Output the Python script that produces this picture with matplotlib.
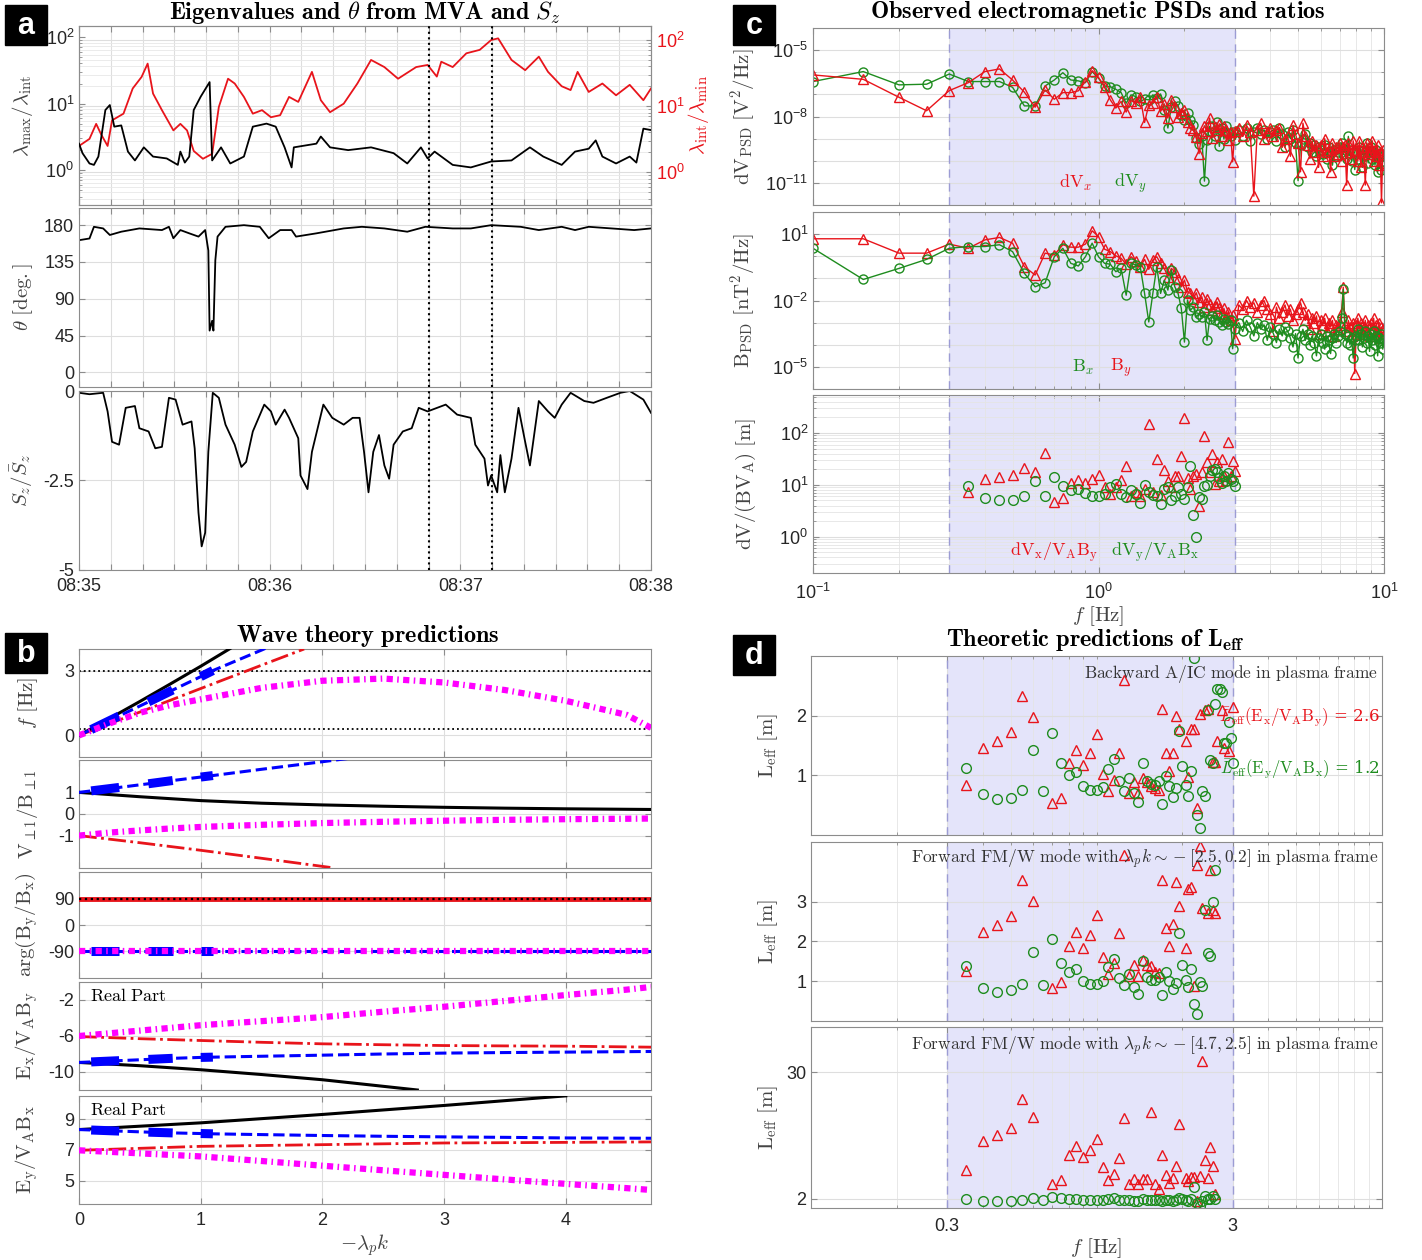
import numpy as np
import matplotlib
matplotlib.use('Agg')
import matplotlib.pyplot as plt
from matplotlib.ticker import FixedLocator, LogLocator, NullFormatter, FixedFormatter
from matplotlib.patches import Rectangle

plt.rcParams['font.family'] = ['Liberation Sans', 'DejaVu Sans']
plt.rcParams['mathtext.fontset'] = 'cm'
plt.rcParams['axes.unicode_minus'] = False

W, H = 1422, 1260
RED = '#e8141b'
GREEN = '#1e8c1e'
GRAY = '#444444'
SHADE = '#e4e4fa'

# ---------------- panel a data (time in s after 08:35:00) ----------------
t_lmax = [0, 1.1, 3.3, 4.7, 6.1, 8.3, 9.7, 11.1, 13.3, 15.4, 17.6, 20.4, 23.3, 27.6, 31.1, 31.9,
          33.3, 34.7, 36.1, 38.3, 41.1, 41.9, 44.7, 47.6, 51.9, 54.7, 59, 61.9, 64.7, 66.9, 67.6,
          74.7, 76.1, 79, 84.7, 91.9, 99, 103.3, 107.6, 109.7, 111.9, 117.6, 123.3, 129.7, 136.1,
          141.9, 146.1, 151.9, 156.1, 160.4, 162.6, 164.7, 169, 173.3, 175.4, 177.6, 180]
lmax_lint = [2.5, 1.8, 1.26, 1.2, 1.6, 8, 9.5, 4.5, 4.7, 1.9, 1.4, 2.2, 1.6, 1.5, 1.2, 1.9,
             1.3, 1.6, 8, 12.7, 21, 1.4, 2.2, 1.26, 1.6, 4.5, 5, 4.5, 2.2, 1.1, 2.2,
             2.5, 3.2, 2.2, 2.0, 2.2, 1.8, 1.26, 2.2, 1.5, 1.9, 1.2, 1.1, 1.35, 1.4,
             2.2, 1.6, 1.2, 1.9, 2.1, 2.8, 1.6, 1.26, 1.6, 1.3, 4.2, 4.0]
t_lint = [0, 3.3, 5.4, 6.9, 9, 10.4, 14, 16.9, 19.7, 21.6, 23.3, 26.1, 29.7, 31.9, 34, 36.1, 39,
          41.9, 44, 46.9, 49, 51.9, 54.7, 57.6, 60.4, 63.3, 66.1, 69, 73.3, 76.1, 79, 83.3, 87.6,
          91.9, 96.1, 100.4, 106.1, 109.7, 112.6, 114, 117.6, 121.9, 126.1, 129.7, 131.9, 136.1,
          140.4, 144.7, 147.6, 151.9, 154.7, 156.9, 160.4, 164.7, 169, 173.3, 177.6, 180]
lint_lmin = [2.5, 3.2, 5.4, 3.8, 2.5, 6.1, 7.7, 18.5, 27.7, 44, 15.5, 8.7, 4.3, 5.4, 4.3, 2.1, 1.6,
             1.9, 9.7, 26, 22, 13.8, 7.7, 8.7, 6.8, 7.3, 13.8, 11.6, 33, 12.3, 8.1, 10.9, 22,
             50, 39, 26, 39, 42, 28, 47, 39, 63, 71, 100, 106, 50,
             35, 56, 33, 20, 17.5, 33, 16.4, 22, 14.6, 21, 12.3, 18.5]
t_theta = [0, 3.3, 4.7, 7.6, 9.7, 13.3, 19, 26.1, 28.3, 29.7, 31.9, 34.7, 37.6, 39.7, 40.7, 41.1,
           41.9, 42.3, 42.9, 43.6, 46.1, 51.9, 56.9, 59.7, 63.3, 66.9, 68.3, 74.7, 83.3, 89, 96.1,
           103.3, 109, 117.6, 123.3, 129.7, 139, 144.7, 151.9, 156.1, 160.4, 167.6, 174.7, 180]
theta = [161.6, 163.7, 178, 176, 168, 172, 176, 174, 178, 164, 174, 170, 166, 174, 149, 51,
         63, 51, 137, 166, 178, 180, 178, 164, 174, 174, 166, 170, 176, 178, 176,
         172, 178, 176, 176, 180, 178, 174, 178, 174, 178, 176, 174, 176]
t_sz = [0, 3.3, 7.6, 9, 10.4, 12.6, 14.7, 17.6, 19, 21.9, 24, 26.1, 28.3, 30.4, 32.6, 35.4, 36.4,
        37.6, 38.6, 39.7, 40.7, 42.1, 44, 46.1, 49, 51.1, 52.6, 54.7, 58.3, 60.4, 61.9, 64.7,
        66.1, 69, 69.7, 71.9, 73.3, 76.9, 79.7, 83.3, 86.1, 88.3, 89.7, 91.1, 92.6, 94.4, 96.1,
        97.6, 99, 101.9, 104.7, 106.9, 109.7, 115.4, 119, 123.3, 124.7, 127.6, 128.7, 129.7,
        131.6, 132.6, 134, 136.1, 138.3, 140.4, 141.9, 144.7, 147.6, 149.7, 151.9, 154.7, 159,
        161.9, 166.1, 170.4, 173.3, 177.6, 180]
sz = [-0.05, -0.09, -0.05, -0.57, -1.42, -1.5, -0.47, -0.42, -1.04, -1.13, -1.6, -1.56, -0.19,
      -0.24, -0.94, -0.85, -1.6, -3.4, -4.34, -3.96, -1.7, -0.05, -0.19, -0.94, -1.5, -2.12,
      -1.98, -1.13, -0.38, -0.57, -0.94, -0.52, -0.75, -1.32, -2.36, -2.74, -1.7, -0.38, -0.75,
      -0.94, -0.75, -0.75, -1.7, -2.83, -1.7, -1.23, -2.08, -2.45, -1.5, -1.13, -1.04, -0.47,
      -0.57, -0.38, -0.66, -0.75, -1.5, -1.89, -2.64, -2.36, -2.83, -1.79, -2.83, -1.89, -0.47,
      -1.42, -2.08, -0.28, -0.57, -0.75, -0.38, -0.05, -0.28, -0.33, -0.19, -0.05, 0.0, -0.24,
      -0.61]
t_marks = [110, 130]
time_labels = ['08:35', '08:36', '08:37', '08:38']

# ---------------- panel b data (theory curves vs -lambda_p k) ----------------
hl_ranges = [(0.1, 0.33), (0.57, 0.77), (1.0, 1.1)]
k_blue = [0, 0.1, 0.33, 0.57, 0.77, 1.0, 1.1, 1.5, 2.0, 2.5, 3.0, 3.5, 4.0, 4.7]
k_mag = [0, 0.25, 0.5, 0.75, 1.0, 1.5, 2.0, 2.5, 3.0, 3.5, 4.0, 4.5, 4.7]
k_line = [0, 0.5, 1.0, 1.5, 2.0, 2.5, 3.0, 3.5, 4.0, 4.7]

f_black_k = [0, 0.25, 0.5, 0.75, 1.0, 1.25]
f_black = [0, 0.78, 1.57, 2.38, 3.2, 4.05]
f_red_k = [0, 0.5, 1.0, 1.5, 1.85]
f_red = [0, 1.08, 2.17, 3.25, 4.0]
f_blue = [0, 0.27, 0.9, 1.55, 2.1, 2.72, 3.0, 3.95, 5.2, 6.4, 7.6, 8.8, 10.0, 11.7]
f_mag = [0, 0.55, 1.05, 1.4, 1.67, 2.2, 2.53, 2.63, 2.45, 2.1, 1.6, 0.95, 0.35]

v_black = [1.0, 0.8, 0.62, 0.5, 0.42, 0.36, 0.31, 0.27, 0.24, 0.21]
v_red_k = [0, 0.5, 1.0, 1.5, 2.1]
v_red = [-1.0, -1.33, -1.68, -2.05, -2.5]
v_blue = [1.0, 1.07, 1.23, 1.40, 1.55, 1.71, 1.78, 2.07, 2.42, 2.78, 3.1, 3.5, 3.8, 4.3]
v_mag = [-1.0, -0.86, -0.76, -0.67, -0.6, -0.5, -0.42, -0.36, -0.31, -0.27, -0.24, -0.22, -0.21]

arg_k = [0, 4.7]
arg_pos = [90, 90]
arg_blue = [-90] * len(k_blue)
arg_mag = [-90] * len(k_mag)

ex_black_k = [0, 0.5, 1.0, 1.5, 2.0, 2.78]
ex_black = [-8.94, -9.3, -9.75, -10.28, -10.86, -12.0]
ex_red = [-6.06, -6.3, -6.5, -6.7, -6.87, -6.97, -7.06, -7.1, -7.13, -7.24]
ex_blue = [-8.94, -8.88, -8.74, -8.6, -8.48, -8.38, -8.35, -8.25, -8.13, -8.0, -7.9, -7.84, -7.79, -7.72]
ex_mag = [-6.0, -5.7, -5.4, -5.1, -4.8, -4.35, -3.9, -3.3, -2.75, -2.1, -1.45, -0.85, -0.55]

ey_black_k = [0, 1, 2, 3, 4]
ey_black = [8.34, 8.78, 9.33, 9.92, 10.55]
ey_red_k = [0, 1, 2, 3, 4, 4.7]
ey_red = [6.98, 7.24, 7.35, 7.46, 7.5, 7.53]
ey_blue = [8.34, 8.31, 8.24, 8.17, 8.12, 8.08, 8.06, 8.01, 7.95, 7.9, 7.86, 7.83, 7.79, 7.77]
ey_mag = [6.98, 6.88, 6.78, 6.68, 6.58, 6.28, 5.97, 5.67, 5.37, 5.07, 4.78, 4.5, 4.38]

# ---------------- panel c data (PSD exponents, log10) ----------------
f_lo = [0.10, 0.15, 0.20, 0.25, 0.30, 0.35, 0.40, 0.45, 0.50, 0.55, 0.60, 0.65, 0.70, 0.75,
        0.80, 0.85, 0.90, 0.95, 1.00, 1.05, 1.10, 1.15, 1.20, 1.25, 1.30, 1.35, 1.40, 1.45,
        1.50, 1.55, 1.60, 1.65, 1.70, 1.75, 1.80, 1.85, 1.90, 1.95, 2.00, 2.05, 2.10, 2.15,
        2.20, 2.25, 2.30, 2.35, 2.40, 2.45, 2.50, 2.55, 2.60, 2.65, 2.70, 2.75, 2.80, 2.85,
        2.90, 2.95, 3.00]
f_hi = [3.1, 3.2, 3.3, 3.4, 3.5, 3.6, 3.7, 3.8, 3.9, 4.0, 4.1, 4.2, 4.3, 4.4, 4.5, 4.6, 4.7,
        4.8, 4.9, 5.0, 5.1, 5.2, 5.3, 5.4, 5.5, 5.6, 5.7, 5.8, 5.9, 6.0, 6.1, 6.2, 6.3, 6.4,
        6.5, 6.6, 6.7, 6.8, 6.9, 7.0, 7.1, 7.2, 7.3, 7.4, 7.5, 7.6, 7.7, 7.8, 7.9, 8.0, 8.1,
        8.2, 8.3, 8.4, 8.5, 8.6, 8.7, 8.8, 8.9, 9.0, 9.1, 9.2, 9.3, 9.4, 9.5, 9.6, 9.7, 9.8,
        9.9, 10.0]

dvx_lo = [-6.12, -6.32, -7.13, -7.74, -6.83, -6.47, -5.97, -5.85, -6.35, -6.90,
          -7.58, -6.80, -7.22, -6.92, -6.92, -6.84, -6.42, -5.93, -6.23, -6.68,
          -7.25, -7.62, -7.32, -7.80, -7.28, -7.40, -7.10, -8.27, -7.47, -7.37,
          -7.10, -7.77, -7.43, -8.07, -7.25, -7.55, -8.03, -7.85, -7.70, -8.27,
          -8.52, -8.63, -8.93, -9.68, -8.75, -8.42, -8.67, -8.07, -8.97, -8.48,
          -8.63, -8.33, -8.90, -8.45, -8.63, -9.05, -8.72, -10.05, -8.67]
dvx_hi = [-8.5, -8.9, -8.4, -8.7, -11.6, -8.6, -8.3, -9.0, -8.7,
          -8.5, -8.9, -8.6, -8.5, -9.4, -9.0, -8.9, -9.8, -8.4, -8.8,
          -9.2, -10.5, -8.3, -8.9, -9.3, -9.9, -9.1, -9.6, -9.3, -10.3,
          -9.3, -9.8, -9.0, -9.6, -9.5, -10.5, -9.2, -9.8, -9.4, -9.7,
          -9.2, -10.0, -9.4, -9.3, -11.1, -9.2, -9.6, -9.9, -9.1, -9.5,
          -9.5, -10.0, -9.1, -10.3, -9.4, -9.6, -11.1, -9.2, -9.7, -9.4,
          -9.6, -9.1, -10.0, -9.5, -9.8, -9.3, -10.2, -9.6, -11.9, -9.5,
          -9.7]
dvy_lo = [-6.42, -5.97, -6.57, -6.54, -6.08, -6.42, -6.42, -6.42, -6.68, -7.52,
          -7.52, -6.62, -6.35, -6.02, -6.35, -6.39, -6.47, -5.97, -6.27, -6.62,
          -6.65, -6.77, -6.92, -7.40, -7.02, -7.10, -7.32, -7.22, -7.25, -7.02,
          -7.17, -6.98, -7.70, -8.52, -7.55, -7.32, -7.52, -7.92, -8.18, -7.85,
          -8.15, -8.37, -8.97, -9.23, -8.90, -10.92, -9.05, -8.45, -8.72, -8.90,
          -8.27, -9.35, -8.52, -9.02, -8.42, -8.75, -8.90, -8.72, -9.05]
dvy_hi = [-8.6, -8.9, -8.5, -9.1, -8.7, -8.5, -8.8, -8.6, -9.0,
          -8.7, -8.6, -9.1, -8.5, -8.8, -9.4, -8.7, -9.0, -8.6, -9.2,
          -10.9, -9.3, -9.0, -8.8, -9.4, -9.2, -9.6, -9.3, -9.8, -9.4,
          -9.5, -9.7, -9.3, -9.9, -9.4, -9.6, -10.2, -9.5, -9.8, -9.6,
          -9.4, -9.2, -9.7, -9.5, -9.9, -8.9, -9.5, -10.0, -9.6, -10.4,
          -9.6, -9.9, -9.4, -9.7, -10.3, -9.5, -9.8, -9.2, -10.1, -9.6,
          -9.4, -9.9, -9.6, -10.2, -9.5, -10.5, -9.7, -9.8, -10.4, -10.0,
          -9.8]
by_lo = [0.79, 0.79, 0.14, 0.14, 0.55, 0.36, 0.74, 0.85, 0.59, -0.47,
         -0.85, 0.14, 0.06, 0.52, 0.41, 0.41, 0.55, 1.15, 0.89, 0.32,
         0.21, 0.02, -0.09, -0.36, -0.02, -0.21, -0.47, -0.14, -0.59, -0.17,
         -0.02, -0.32, -0.55, -0.92, -0.55, -0.70, -1.05, -1.38, -1.08, -1.61,
         -1.68, -1.91, -1.65, -2.06, -1.83, -2.29, -1.91, -2.17, -2.44, -2.26,
         -2.06, -2.36, -2.59, -2.36, -2.74, -2.52, -2.89, -2.67, -3.73]
by_hi = [-2.2, -2.4, -2.0, -2.3, -2.1, -2.5, -2.2, -2.0, -2.4,
         -2.6, -3.4, -2.3, -2.8, -2.5, -2.2, -2.7, -2.4, -2.9, -2.6,
         -2.4, -2.1, -2.5, -2.9, -2.6, -3.3, -2.8, -3.0, -2.7, -3.5,
         -2.9, -3.1, -2.8, -3.4, -3.0, -3.2, -2.9, -3.6, -3.1, -3.3,
         -3.0, -2.5, -1.4, -3.1, -3.4, -2.9, -3.2, -3.6, -3.0, -5.3,
         -3.1, -2.8, -3.3, -3.0, -3.5, -3.2, -2.9, -3.4, -3.1, -3.6,
         -3.0, -3.3, -2.8, -3.5, -3.1, -3.4, -3.0, -3.7, -3.2, -3.3,
         -3.5]
bx_lo = [0.36, -1.05, -0.55, -0.14, 0.36, 0.44, 0.44, 0.52, 0.21, -0.77,
         -1.38, -1.20, -0.02, 0.36, -0.32, -0.44, -0.02, 0.59, -0.02, -0.32,
         -0.36, -0.70, -0.55, -1.76, -0.32, -0.39, -0.47, -1.68, -2.97, -1.68,
         -0.47, -1.68, -1.08, -1.53, -0.62, -1.38, -1.68, -2.36, -3.88, -1.98,
         -2.44, -2.29, -2.74, -2.59, -2.74, -2.52, -3.80, -2.82, -2.71, -2.89,
         -2.67, -2.97, -3.12, -2.82, -2.97, -3.05, -2.89, -4.18, -3.27]
bx_hi = [-3.0, -3.4, -2.9, -3.2, -3.6, -3.0, -3.3, -3.1, -3.8,
         -3.2, -3.5, -3.9, -3.3, -3.6, -3.2, -3.4, -3.7, -4.1, -3.5,
         -4.6, -3.6, -3.3, -3.8, -3.5, -4.0, -3.6, -3.9, -4.5, -3.7,
         -3.5, -3.9, -4.2, -3.6, -3.8, -4.4, -3.7, -3.5, -3.9, -3.6,
         -3.4, -2.8, -1.5, -3.5, -3.9, -3.6, -4.0, -3.7, -4.6, -3.8,
         -3.6, -3.3, -3.8, -3.5, -4.1, -3.7, -3.4, -3.9, -3.6, -4.3,
         -3.5, -3.8, -3.4, -4.0, -3.6, -4.5, -3.7, -3.9, -3.5, -4.2,
         -3.8]

# ratios dV/(B VA) for f = 0.35 ... 3.00 Hz
f_ratio = f_lo[5:]
ratio_x = [7.2, 13, 14, 15.8, 21, 18, 42, 4.6, 5.6, 11,
           12.5, 10.8, 13, 15.8, 9.3, 6.7, 9, 12.5, 23, 6,
           7.2, 6, 8.4, 149, 7.2, 31.6, 6.5, 19, 12, 9.3,
           15, 14.5, 36, 194, 13.6, 8.4, 14.5, 16.3, 4.0, 17.5,
           89, 27, 17.5, 39.5, 10.5, 27, 12, 31.6, 15, 12.5,
           66, 15, 28.6, 18.5]
ratio_y = [9.4, 5.6, 5.0, 5.1, 6.2, 12, 6.2, 14, 9.7, 8,
           8.4, 6.9, 6, 6, 6.7, 9, 10.5, 6.7, 5.8, 7.8,
           6.7, 4.4, 10.1, 7.2, 6.5, 6.2, 4.2, 8.4, 9, 5,
           6.2, 9.3, 6.7, 5.4, 9, 23, 2.6, 1.0, 5.8, 5.4,
           9.7, 10, 14.5, 19, 20.5, 17.5, 13.6, 11, 14.5, 12,
           16.8, 13, 11.7, 9.7]

# ---------------- panel d data (L_eff in m) ----------------
nan = float('nan')
leff1_x = [0.83, 1.45, 1.58, 1.73, 2.33, 1.97, 4.8, 0.53, 0.62, 1.20,
           1.43, 1.18, 1.38, 1.70, 1.03, 0.73, 0.93, 1.37, 2.60, 0.70,
           0.88, 0.70, 0.95, 0.88, 0.82, 0.78, 0.75, 2.12, 1.37, 1.07,
           1.38, 1.99, 1.78, 22.0, 1.58, 0.97, 1.77, 1.78, 0.46, 2.02,
           10.2, 2.10, 2.12, 4.5, 1.22, 1.22, 1.57, 3.6, 2.10, 1.45,
           7.5, 1.40, 3.3, 2.15]
leff1_y = [1.12, 0.68, 0.60, 0.62, 0.75, 1.43, 0.74, 1.71, 1.21, 1.00,
           1.06, 0.82, 0.76, 0.75, 0.81, 1.10, 1.27, 0.90, 0.73, 0.95,
           0.70, 0.55, 1.20, 0.90, 0.85, 0.83, 0.90, 0.52, 0.99, 0.82,
           0.64, 0.78, 1.74, 1.16, 0.84, 0.66, 1.07, 2.97, 0.33, 0.12,
           0.73, 0.65, 2.10, 1.25, 1.20, 2.20, 2.45, 2.45, 2.40, 1.55,
           1.55, 1.90, 1.62, 1.20]
leff2_x = [1.25, 2.23, 2.42, 2.65, 3.55, 3.02, 7.3, 0.83, 0.97, 1.88,
           2.23, 1.83, 2.15, 2.66, 1.60, 1.17, 1.47, 2.20, 4.17, 1.12,
           1.42, 1.13, 1.53, 1.42, 1.38, 1.24, 1.20, 3.55, 2.35, 1.88,
           2.43, 3.50, 2.88, 6.0, 1.83, 3.33, 3.37, 0.89, 3.92, 4.40,
           2.83, 4.8, 2.72, 3.8, 2.80, 2.72,
           nan, nan, nan, nan, nan, nan, nan, nan]
leff2_y = [1.38, 0.83, 0.73, 0.77, 0.92, 1.73, 0.90, 2.07, 1.47, 1.22,
           1.30, 1.00, 0.93, 0.92, 1.00, 1.35, 1.57, 1.08, 0.90, 1.18,
           0.86, 0.68, 1.50, 1.10, 1.04, 1.02, 1.10, 0.65, 1.22, 1.00,
           0.80, 0.95, 2.22, 1.42, 1.03, 0.85, 1.30, 0.43, 0.17, 0.97,
           0.88, 2.80, 1.70, 1.63, 3.00, 3.80,
           nan, nan, nan, nan, nan, nan, nan, nan]
leff3_x = [8.3, 14.9, 16.2, 17.7, 24.0, 20.1, 45.0, 5.4, 6.2, 11.8,
           13.8, 11.2, 12.9, 15.3, 9.1, 6.1, 7.6, 11.0, 19.9, 5.2,
           6.3, 5.2, 6.3, 6.5, 21.2, 5.2, 4.3, 11.7, 7.3, 5.5,
           6.7, 9.3, 18.6, 45.0, 6.7, 6.0, 6.8, 6.8, 1.5, 7.1,
           32.5, 10.6, 6.7, 13.5, 9.3, 3.1,
           nan, nan, nan, nan, nan, nan, nan, nan]
leff3_y = [2.0, 1.6, 1.6, 1.6, 1.7, 2.3, 1.8, 2.5, 2.1, 1.9,
           1.9, 1.7, 1.7, 1.7, 1.8, 2.0, 2.1, 1.8, 1.7, 1.8,
           1.6, 1.5, 2.0, 1.8, 1.8, 1.8, 1.8, 1.5, 1.8, 1.7,
           1.6, 1.7, 2.3, 1.9, 1.7, 1.6, 1.9, 4.6, 1.1, 0.5,
           1.6, 2.6, 1.9, 1.9, 2.7, 1.97,
           nan, nan, nan, nan, nan, nan, nan, nan]
leff_mean_x = 2.6
leff_mean_y = 1.2
band = (0.3, 3.0)

fig = plt.figure(figsize=(W / 100, H / 100), dpi=100)


def add_ax(x0, y0, x1, y1):
    return fig.add_axes([x0 / W, 1 - y1 / H, (x1 - x0) / W, (y1 - y0) / H])


def style(ax, size=13):
    for s in ax.spines.values():
        s.set_color('#8c8c8c')
    ax.tick_params(which='both', direction='in', top=True, right=True, colors='#8c8c8c',
                   labelcolor='#262626', labelsize=size, length=4)
    ax.tick_params(which='minor', length=2)
    ax.set_axisbelow(True)
    ax.grid(True, which='major', color='#dedede', lw=0.8)


def ylab(ax, text, xpos, color=GRAY):
    ax.set_ylabel(text, fontsize=15, color=color)
    ax.yaxis.set_label_coords(xpos, 0.5)


def panel_tag(letter, x0, y0):
    fig.patches.append(Rectangle((x0 / W, 1 - (y0 + 40) / H), 42 / W, 40 / H,
                                 transform=fig.transFigure, color='black', zorder=10))
    fig.text((x0 + 21) / W, 1 - (y0 + 21) / H, letter, color='white', fontsize=22,
             fontweight='bold', ha='center', va='center', zorder=11)


TITLE = 17.5

# ================= panel a =================
a1 = add_ax(79, 26, 651, 205)
a2 = add_ax(79, 208, 651, 387)
a3 = add_ax(79, 391, 651, 570)
for ax in (a1, a2, a3):
    style(ax)
    ax.set_xlim(0, 180)
    ax.set_xticks(range(0, 181, 10))
    ax.set_xticklabels([])
    for tm in t_marks:
        ax.axvline(tm, color='black', ls=':', lw=1.5, zorder=5)
a3.set_xticklabels([time_labels[i // 60] if i % 60 == 0 else '' for i in range(0, 181, 10)])
a3.tick_params(axis='x', pad=6)

# left axis (black) sits on top with a transparent background; grid lives on the red twin
a1.set_yscale('log')
a1.set_ylim(0.3, 146)
a1.yaxis.set_major_locator(FixedLocator([1, 10, 100]))
a1.yaxis.set_minor_locator(LogLocator(subs=np.arange(2, 10)))
a1.yaxis.set_minor_formatter(NullFormatter())
a1.grid(False)
a1r = a1.twinx()
a1r.set_yscale('log')
a1r.set_ylim(0.32, 163)
a1r.yaxis.set_major_locator(FixedLocator([1, 10, 100]))
a1r.yaxis.set_minor_locator(LogLocator(subs=np.arange(2, 10)))
a1r.yaxis.set_minor_formatter(NullFormatter())
a1r.tick_params(which='both', direction='in', colors='#8c8c8c', labelcolor=RED, labelsize=13)
a1r.tick_params(which='minor', length=2)
a1r.set_axisbelow(True)
a1r.grid(True, which='major', color='#dedede', lw=0.8)
a1r.grid(True, which='minor', axis='y', color='#e8e8e8', lw=0.6)
for tx in range(0, 181, 10):
    a1r.axvline(tx, color='#dedede', lw=0.8, zorder=0.5)
for s in a1r.spines.values():
    s.set_color('#8c8c8c')
a1r.plot(t_lint, lint_lmin, color=RED, lw=1.3, zorder=3)
a1.plot(t_lmax, lmax_lint, color='black', lw=1.3, zorder=6)
a1.set_zorder(a1r.get_zorder() + 1)
a1.patch.set_visible(False)
ylab(a1, r'$\lambda_{\max}/\lambda_{\rm int}$', -0.077)
a1r.set_ylabel(r'$\lambda_{\rm int}/\lambda_{\min}$', fontsize=15, color=RED)
a1r.yaxis.set_label_coords(1.061, 0.5)

a2.plot(t_theta, theta, color='black', lw=1.3)
a2.set_ylim(-18, 201)
a2.set_yticks([0, 45, 90, 135, 180])
ylab(a2, r'$\theta\ [\rm deg.]$', -0.077)

a3.plot(t_sz, sz, color='black', lw=1.3)
a3.set_ylim(-5, 0)
a3.set_yticks([-5, -2.5, 0])
a3.set_yticklabels(['-5', '-2.5', '0'])
ylab(a3, r'$S_z/\bar{S}_z$', -0.077)

fig.text(365 / W, 1 - 12 / H, r'$\mathbf{Eigenvalues\ and}\ \theta\ \mathbf{from\ MVA\ and}\ S_z$',
         ha='center', va='center', fontsize=TITLE)

# ================= panel b =================
b_rows = [(649, 757), (760, 868), (872, 978), (982, 1090), (1096, 1204)]
b_axes = [add_ax(79, y0, 651, y1) for y0, y1 in b_rows]
for ax in b_axes:
    style(ax)
    ax.set_xlim(0, 4.7)
    ax.set_xticks([0, 1, 2, 3, 4])
    ax.set_xticklabels([])
b_axes[-1].set_xticklabels(['0', '1', '2', '3', '4'])
b_axes[-1].tick_params(axis='x', pad=6)

DOT = (0, (1.0, 0.7, 0.25, 0.7))


def theory(ax, kb, yb, km, ym, kk, yk, kr, yr, dotted_black=False):
    if dotted_black:
        ax.plot(kr, yr, color=RED, lw=3.5, zorder=3)
        ax.plot(kk, yk, color='black', ls=':', lw=1.6, zorder=4)
    else:
        ax.plot(kr, yr, color=RED, ls='-.', lw=2, zorder=3)
        ax.plot(kk, yk, color='black', lw=2.2, zorder=3)
    kb = np.array(kb)
    yb = np.array(yb)
    ax.plot(kb, yb, color='blue', ls='--', lw=2.2, zorder=3)
    for lo, hi in hl_ranges:
        m = (kb >= lo - 1e-9) & (kb <= hi + 1e-9)
        ax.plot(kb[m], yb[m], color='blue', lw=6.5, solid_capstyle='butt', zorder=3)
    ax.plot(km, ym, color='magenta', ls=DOT, lw=4.5, dash_capstyle='butt', zorder=4)


b1, b2, b3, b4, b5 = b_axes
theory(b1, k_blue, f_blue, k_mag, f_mag, f_black_k, f_black, f_red_k, f_red)
b1.axhline(3, color='black', ls=':', lw=1.3, zorder=2)
b1.axhline(0.3, color='black', ls=':', lw=1.3, zorder=2)
b1.set_ylim(-1, 4)
b1.set_yticks([0, 3])
ylab(b1, r'$f\ [\rm Hz]$', -0.068)

theory(b2, k_blue, v_blue, k_mag, v_mag, k_line, v_black, v_red_k, v_red)
b2.set_ylim(-2.5, 2.5)
b2.set_yticks([-1, 0, 1])
ylab(b2, r'$\rm V_{\perp1}/B_{\perp1}$', -0.068)

theory(b3, k_blue, arg_blue, k_mag, arg_mag, arg_k, arg_pos, arg_k, arg_pos, dotted_black=True)
b3.set_ylim(-183, 183)
b3.set_yticks([-90, 0, 90])
ylab(b3, r'$\rm arg(B_y/B_x)$', -0.068)

theory(b4, k_blue, ex_blue, k_mag, ex_mag, ex_black_k, ex_black, k_line, ex_red)
b4.set_ylim(-12, 0)
b4.set_yticks([-10, -6, -2])
ylab(b4, r'$\rm E_x/V_AB_y$', -0.068)
b4.text(0.02, 0.87, r'$\rm Real\ Part$', transform=b4.transAxes, fontsize=13, va='center')

theory(b5, k_blue, ey_blue, k_mag, ey_mag, ey_black_k, ey_black, ey_red_k, ey_red)
b5.set_ylim(3.46, 10.54)
b5.set_yticks([5, 7, 9])
ylab(b5, r'$\rm E_y/V_AB_x$', -0.068)
b5.text(0.02, 0.87, r'$\rm Real\ Part$', transform=b5.transAxes, fontsize=13, va='center')
b5.set_xlabel(r'$-\lambda_p k$', fontsize=15, color=GRAY, labelpad=2)

fig.text(368 / W, 1 - 636 / H, r'$\mathbf{Wave\ theory\ predictions}$', ha='center',
         va='center', fontsize=TITLE)

# ================= panel c =================
c1 = add_ax(813, 28, 1384, 205)
c2 = add_ax(813, 212, 1384, 389)
c3 = add_ax(813, 395, 1384, 573)


def log_x(ax):
    ax.set_xscale('log')
    ax.set_xlim(0.1, 10)
    ax.xaxis.set_minor_locator(LogLocator(subs=np.arange(2, 10)))
    ax.xaxis.set_minor_formatter(NullFormatter())
    ax.grid(True, which='minor', axis='x', color='#e4e4e4', lw=0.6)


def shade(ax):
    ax.axvspan(band[0], band[1], color=SHADE, zorder=0.2, lw=0)
    for b in band:
        ax.axvline(b, color='#9c9cd4', ls=(0, (6, 4)), lw=1, zorder=0.6)


f_all = f_lo + f_hi
for ax in (c1, c2, c3):
    style(ax)
    log_x(ax)
    shade(ax)
    ax.set_yscale('log')
for ax in (c1, c2):
    ax.set_xticklabels([])
    ax.xaxis.set_major_formatter(NullFormatter())

mk = dict(mfc='none', ms=6.5, mew=1.0, lw=1.0)
c1.plot(f_all, 10.0 ** np.array(dvy_lo + dvy_hi), color=GREEN, marker='o', **mk)
c1.plot(f_all, 10.0 ** np.array(dvx_lo + dvx_hi), color=RED, marker='^', **mk)
c1.set_ylim(1e-12, 1e-4)
c1.yaxis.set_major_locator(FixedLocator([1e-11, 1e-8, 1e-5]))
c1.yaxis.set_minor_locator(FixedLocator([10.0 ** e for e in range(-12, -3)]))
c1.yaxis.set_minor_formatter(NullFormatter())
c1.grid(True, which='minor', axis='y', color='#dedede', lw=0.8)
ylab(c1, r'$\rm dV_{PSD}\ [V^2/Hz]$', -0.096)
c1.text(0.46, 0.125, r'$\mathrm{dV}_x$', color=RED, transform=c1.transAxes, fontsize=13,
        ha='center', va='center')
c1.text(0.555, 0.125, r'$\mathrm{dV}_y$', color=GREEN, transform=c1.transAxes, fontsize=13,
        ha='center', va='center')

c2.plot(f_all, 10.0 ** np.array(by_lo + by_hi), color=RED, marker='^', **mk)
c2.plot(f_all, 10.0 ** np.array(bx_lo + bx_hi), color=GREEN, marker='o', **mk)
c2.set_ylim(1e-6, 1e2)
c2.yaxis.set_major_locator(FixedLocator([1e-5, 1e-2, 1e1]))
c2.yaxis.set_minor_locator(FixedLocator([10.0 ** e for e in range(-6, 3)]))
c2.yaxis.set_minor_formatter(NullFormatter())
c2.grid(True, which='minor', axis='y', color='#dedede', lw=0.8)
ylab(c2, r'$\rm B_{PSD}\ [nT^2/Hz]$', -0.096)
c2.text(0.473, 0.12, r'$\mathrm{B}_x$', color=GREEN, transform=c2.transAxes, fontsize=13,
        ha='center', va='center')
c2.text(0.54, 0.12, r'$\mathrm{B}_y$', color=RED, transform=c2.transAxes, fontsize=13,
        ha='center', va='center')

c3.plot(f_ratio, ratio_x, ls='none', color=RED, marker='^', mfc='none', ms=7, mew=1.0)
c3.plot(f_ratio, ratio_y, ls='none', color=GREEN, marker='o', mfc='none', ms=7, mew=1.0)
c3.set_ylim(0.2, 540)
c3.yaxis.set_major_locator(FixedLocator([1, 10, 100]))
c3.yaxis.set_minor_locator(LogLocator(subs=np.arange(2, 10)))
c3.yaxis.set_minor_formatter(NullFormatter())
c3.grid(True, which='minor', axis='y', color='#e4e4e4', lw=0.6)
ylab(c3, r'$\rm dV/(BV_A)\ [m]$', -0.096)
c3.text(0.422, 0.115, r'$\rm dV_x/V_AB_y$', color=RED, transform=c3.transAxes, fontsize=13,
        ha='center', va='center')
c3.text(0.6, 0.115, r'$\rm dV_y/V_AB_x$', color=GREEN, transform=c3.transAxes, fontsize=13,
        ha='center', va='center')
c3.set_xlabel(r'$f\ [\rm Hz]$', fontsize=15, color=GRAY, labelpad=1)
c3.tick_params(axis='x', pad=7)

fig.text(1098 / W, 1 - 12 / H, r'$\mathbf{Observed\ electromagnetic\ PSDs\ and\ ratios}$',
         ha='center', va='center', fontsize=TITLE)

# ================= panel d =================
d_rows = [(656, 835), (842, 1021), (1027, 1208)]
d_axes = [add_ax(811, y0, 1382, y1) for y0, y1 in d_rows]
for ax in d_axes:
    style(ax)
    log_x(ax)
    shade(ax)
    ax.xaxis.set_major_locator(FixedLocator([0.3, 3]))
    ax.xaxis.set_minor_locator(LogLocator(subs=np.arange(1, 10)))
    ax.xaxis.set_major_formatter(NullFormatter())
d1, d2, d3 = d_axes
d3.xaxis.set_major_formatter(FixedFormatter(['0.3', '3']))
d3.tick_params(axis='x', pad=7)

sc = dict(ls='none', mfc='none', ms=7, mew=1.0)
for ax, lx, ly in ((d1, leff1_x, leff1_y), (d2, leff2_x, leff2_y), (d3, leff3_x, leff3_y)):
    ax.plot(f_ratio, lx, color=RED, marker='^', **sc)
    ax.plot(f_ratio, ly, color=GREEN, marker='o', **sc)
    ylab(ax, r'$\rm L_{eff}\ [m]$', -0.055)

d1.set_ylim(0, 3)
d1.set_yticks([1, 2])
d2.set_ylim(0, 4.5)
d2.set_yticks([1, 2, 3])
d3.set_ylim(0, 40)
d3.set_yticks([2, 30])
d1.text(0.993, 0.9, r'$\rm Backward\ A/IC\ mode\ in\ plasma\ frame$', transform=d1.transAxes,
        fontsize=12.5, ha='right', va='center', color='#333333')
d1.text(0.996, 0.66, r'$\bar{L}_{\rm eff}(\mathrm{E_x/V_AB_y})$' + ' = {:.1f}'.format(leff_mean_x),
        transform=d1.transAxes, fontsize=12, ha='right', va='center', color=RED,
        family=['DejaVu Serif'])
d1.text(0.996, 0.37, r'$\bar{L}_{\rm eff}(\mathrm{E_y/V_AB_x})$' + ' = {:.1f}'.format(leff_mean_y),
        transform=d1.transAxes, fontsize=12, ha='right', va='center', color=GREEN,
        family=['DejaVu Serif'])
d2.text(0.993, 0.9, r'$\mathrm{Forward\ FM/W\ mode\ with}\ \lambda_p k \sim -[2.5, 0.2]\ \mathrm{in\ plasma\ frame}$',
        transform=d2.transAxes, fontsize=12.5, ha='right', va='center', color='#333333')
d3.text(0.993, 0.895, r'$\mathrm{Forward\ FM/W\ mode\ with}\ \lambda_p k \sim -[4.7, 2.5]\ \mathrm{in\ plasma\ frame}$',
        transform=d3.transAxes, fontsize=12.5, ha='right', va='center', color='#333333')
d3.set_xlabel(r'$f\ [\rm Hz]$', fontsize=15, color=GRAY, labelpad=1)

fig.text(1095 / W, 1 - 640 / H, r'$\mathbf{Theoretic\ predictions\ of\ L_{eff}}$',
         ha='center', va='center', fontsize=TITLE)

panel_tag('a', 5, 5)
panel_tag('b', 5, 633)
panel_tag('c', 733, 5)
panel_tag('d', 733, 635)

fig.savefig('out.png', dpi=100)
